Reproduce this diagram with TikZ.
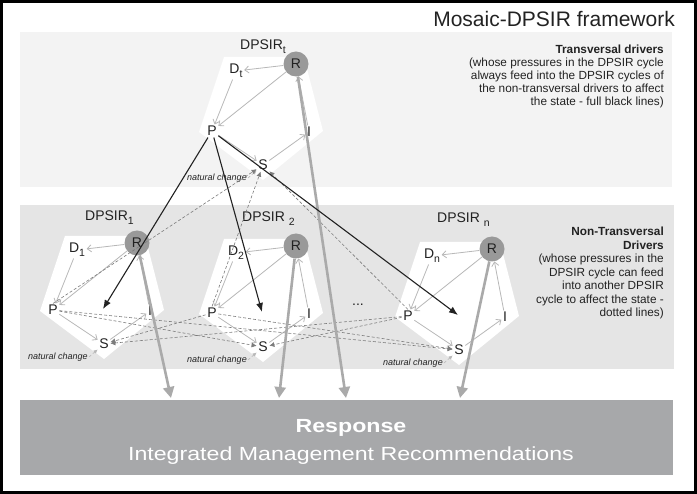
\documentclass[tikz,border=0pt]{standalone}
\usepackage{fontspec}
\setmainfont{Liberation Sans}
\usepackage{graphicx}
\usetikzlibrary{arrows.meta}
\usetikzlibrary{calc}

\definecolor{panelA}{HTML}{F3F3F3}
\definecolor{panelB}{HTML}{E5E5E5}
\definecolor{respgray}{HTML}{A7A8AA}
\definecolor{rgray}{HTML}{999999}
\definecolor{cyclegray}{HTML}{B8B8B8}
\definecolor{dotgray}{HTML}{7C7C7C}
\definecolor{thickgray}{HTML}{AAAAAA}
\definecolor{ink}{HTML}{222222}

\newcommand{\low}[1]{\raisebox{-4pt}{\fontsize{10.5}{10.5}\selectfont #1}}

\begin{document}
\begin{tikzpicture}[
  x=1pt, y=-1pt,
  > = latex,
  letter/.style = {font=\fontsize{14}{14}\selectfont, text=ink, inner sep=1.5pt},
  rdot/.style = {circle, fill=rgray, minimum size=25pt, inner sep=0pt, font=\fontsize{14}{14}\selectfont, text=ink},
  cyc/.style = {draw=cyclegray, line width=0.8pt, -{Straight Barb[length=4pt,width=7pt]}},
  nat/.style = {font=\fontsize{9}{9}\selectfont\itshape, text=ink, inner sep=1pt},
  natarrow/.style = {draw=cyclegray, densely dashed, line width=0.6pt, -{Latex[length=4pt,width=4pt]}},
  crossfeed/.style = {draw=dotgray, densely dashed, line width=0.6pt, -{Latex[length=5pt,width=5pt]}},
  feed/.style = {draw=ink, line width=1.1pt, -{Latex[length=9pt,width=7pt]}},
  resp arrow/.style = {draw=thickgray, line width=2.6pt, -{Triangle[length=11pt,width=11pt]}},
  sidetext/.style = {anchor=north east, align=right, inner sep=0pt, text=ink}
  ]
  \useasboundingbox (0,0) rectangle (697,494);

  % frame and panels
  \draw[line width=3pt] (1.5,1.5) rectangle (695.5,492.5);
  \fill[panelA] (20,32) rectangle (672,187);
  \fill[panelB] (20,205) rectangle (674,369);

  \node[anchor=base east, inner sep=0pt, font=\fontsize{21}{21}\selectfont, text=ink] (title) at (675,27) {Mosaic-DPSIR framework};

  % the four DPSIR cycles
  \foreach \n/\x/\y/\lx/\ly/\lab/\rx in {
      t/296/64/-56/-14/{DPSIR\low{t}}/346,
      1/137/243/-52/-22/{DPSIR\low{1}}/171,
      2/296/246/-54/-24/{DPSIR \low{2}}/279,
      n/492/249/-55/-26/{DPSIR \low{n}}/460}{
    \fill[white] ({\x-72},{\y-7}) -- ({\x+8},{\y-7}) -- ({\x+27},{\y+67}) -- ({\x-33},{\y+116}) -- ({\x-97},{\y+68}) -- cycle;

    \node[letter, anchor=base west, inner sep=0pt] (lab\n) at ({\x+\lx},{\y+\ly}) {\lab};
    \node[rdot] (R\n) at (\x,\y) {R};
    \node[letter] (D\n) at ({\x-60},{\y+7}) {D\low{\n}};
    \node[letter] (P\n) at ({\x-84},{\y+67}) {P};
    \node[letter] (I\n) at ({\x+13},{\y+68}) {I};
    \node[letter] (S\n) at ({\x-33},{\y+101}) {S};
    \node[nat] (nc\n) at ({\x-79},{\y+114}) {natural change};
    \coordinate (tgt\n) at ({\x-34},{\y+66});
    \coordinate (rt\n) at (\rx,398);

    \draw[cyc] (R\n) -- (D\n);
    \draw[cyc] (D\n) -- (P\n);
    \draw[cyc] (R\n) -- (P\n);
    \draw[cyc] (P\n) -- (S\n);
    \draw[cyc] (S\n) -- (I\n);
    \draw[cyc] (I\n) -- (R\n);
    \draw[natarrow] (nc\n.east) -- (S\n);
  }

  \node[letter] (dots) at (358,305) {...};

  % pressures feeding other cycles
  \foreach \a/\b in {1/2,1/n,2/1,2/n,n/1,n/2}
    \draw[crossfeed] (P\a) -- (S\b);
  \foreach \a in {1,2,n}
    \draw[crossfeed] (P\a.north) -- (St);

  % response
  \node[fill=respgray, minimum width=653pt, minimum height=75pt, inner sep=0pt] (resp) at (346.5,437.5) {};
  \node[anchor=base, inner sep=0pt, text=white, font=\fontsize{19}{19}\selectfont\bfseries] (resptitle) at (351,433) {\scalebox{1.22}[1]{Response}};
  \node[anchor=base, inner sep=0pt, text=white, font=\fontsize{19}{19}\selectfont] (respsub) at (351,461) {\scalebox{1.22}[1]{Integrated Management Recommendations}};

  \foreach \a in {t,1,2,n}
    \draw[resp arrow] (R\a) -- (rt\a);
  \foreach \a in {1,2,n}
    \draw[feed] (Pt) -- (tgt\a);

  % side texts
  \node[sidetext, font=\fontsize{11.8}{13}\selectfont] (transv) at (664,45)
    {\textbf{Transversal drivers}\\(whose pressures in the DPSIR cycle\\always feed into the DPSIR cycles of\\the non-transversal drivers to affect\\the state - full black lines)};
  \node[sidetext, font=\fontsize{11.8}{13.5}\selectfont] (nontransv) at (664,227)
    {\textbf{Non-Transversal}\\\textbf{Drivers}\\(whose pressures in the\\DPSIR cycle can feed\\into another DPSIR\\cycle to affect the state -\\dotted lines)};
\end{tikzpicture}
\end{document}
